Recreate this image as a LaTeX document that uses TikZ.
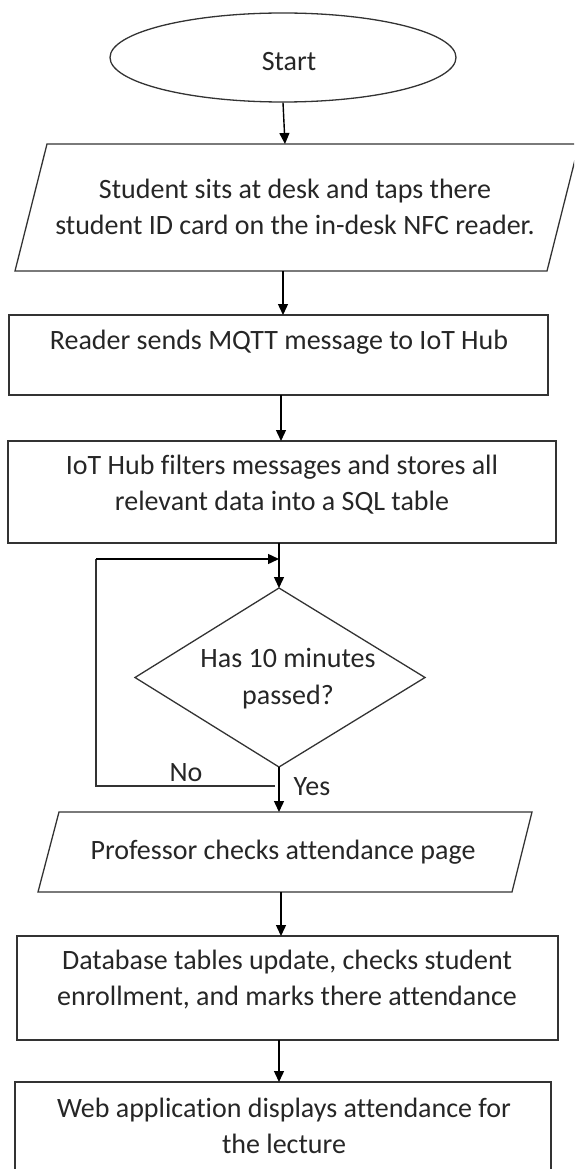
\documentclass[tikz,border=0pt]{standalone}
\usepackage{fontspec}
\setmainfont{Carlito}[Ligatures={NoCommon}]
\usetikzlibrary{shapes.geometric,arrows.meta}
\begin{document}
\begin{tikzpicture}[x=1pt,y=-1pt,
  line/.style={draw=black!80,line width=1.3pt},
  arr/.style={draw=black,line width=1.4pt,-{Triangle[length=11pt,width=10pt]}},
  txt/.style={font=\fontsize{28}{36.6}\selectfont,align=center,text=black!85,inner sep=0pt},
  top/.style={txt,anchor=north}]
\useasboundingbox (0,0) rectangle (574,1169);
\clip (0,0) rectangle (574,1169);
% start
\node[line,ellipse,minimum width=346pt,minimum height=89pt] (start) at (283,57.5) {};
\node[txt] (starttxt) at (289,62) {Start};
% parallelogram 1
\draw[line] (47,144) -- (579,144) -- (547,271) -- (15,271) -- cycle;
\coordinate (p1t) at (285,144);
\coordinate (p1b) at (283,271);
\node[top] (p1) at (295,178.5) {Student sits at desk and taps there\\student ID card on the in-desk NFC reader.};
% box 2
\draw[line] (9,315) rectangle (548,395);
\coordinate (b2t) at (283,315);
\coordinate (b2b) at (281,395);
\node[top] (b2) at (279,329.5) {Reader sends MQTT message to IoT Hub};
% box 3
\draw[line] (8,441) rectangle (556,543);
\coordinate (b3t) at (281,441);
\coordinate (b3b) at (279,543);
\node[top] (b3) at (282,454.5) {IoT Hub filters messages and stores all\\relevant data into a SQL table};
% diamond
\draw[line] (279,588) -- (425,677.5) -- (279,767) -- (135,677.5) -- cycle;
\coordinate (dt) at (279,588);
\coordinate (db) at (279,767);
\node[top] (d) at (288,648.5) {Has 10 minutes\\passed?};
% loop
\coordinate (lp) at (279,559);
\coordinate (l1) at (96,559);
\coordinate (l2) at (96,786);
\coordinate (l3) at (275,786);
\draw[line] (l3) -- (l2) -- (l1);
\draw[arr] (l1) -- (lp);
\node[txt] (no) at (186,773) {No};
\node[txt] (yes) at (312,787) {Yes};
% parallelogram 2
\draw[line] (59,812) -- (532,812) -- (512,892) -- (38,892) -- cycle;
\coordinate (p2t) at (279,812);
\coordinate (p2b) at (281,892);
\node[top] (p2) at (283,839.5) {Professor checks attendance page};
% box 5
\draw[line] (17,936) rectangle (558,1040);
\coordinate (b5t) at (281,936);
\coordinate (b5b) at (279,1040);
\node[top] (b5) at (287,949.5) {Database tables update, checks student\\enrollment, and marks there attendance};
% box 6
\draw[line] (15,1082) rectangle (551,1200);
\coordinate (b6t) at (279,1082);
\node[top] (b6) at (284,1097.5) {Web application displays attendance for\\the lecture};
% arrows
\draw[arr] (start.south) -- (p1t);
\draw[arr] (p1b) -- (b2t);
\draw[arr] (b2b) -- (b3t);
\draw[arr] (b3b) -- (dt);
\draw[arr] (db) -- (p2t);
\draw[arr] (p2b) -- (b5t);
\draw[arr] (b5b) -- (b6t);
\end{tikzpicture}
\end{document}
